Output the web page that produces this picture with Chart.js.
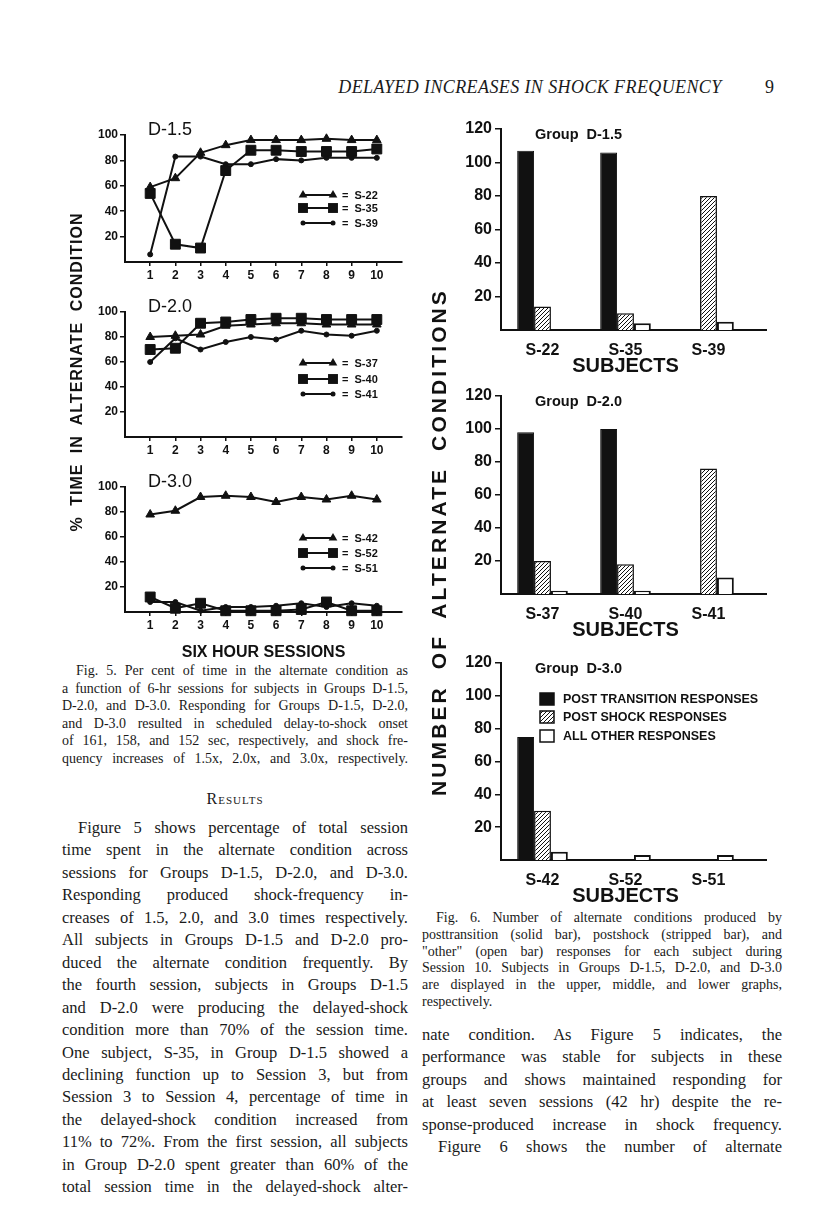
<!DOCTYPE html>
<html>
<head>
<meta charset="utf-8">
<script src="https://cdn.jsdelivr.net/npm/chart.js"></script>
<style>
    body { margin: 0; background: #fff; }
    #pagina { position: relative; width: 816px; height: 1207px; overflow: hidden; background: #fff; color: #1a1a1a; }
    canvas { position: absolute; }
    .txt { position: absolute; font-family: 'Liberation Serif', 'DejaVu Serif', serif; }
    .j { text-align: justify; text-align-last: justify; }
    .vert { position: absolute; font-family: 'Liberation Sans', Arial, sans-serif; font-weight: bold; text-align: center; white-space: nowrap; transform: rotate(-90deg); color: #111; }
</style>
</head>
<body>
<div id="pagina">

    <div class="txt" style="left:330px; top:77px; width:400px; text-align:center; font-style:italic; font-size:18px; letter-spacing:0.4px;">DELAYED INCREASES IN SHOCK FREQUENCY</div>
    <div class="txt" style="left:765px; top:77px; font-size:18px;">9</div>

    <!-- fig 5 -->
    <canvas id="grafico15" width="360" height="175" style="left:60px; top:110px;"></canvas>
    <canvas id="grafico20" width="360" height="172" style="left:60px; top:287px;"></canvas>
    <canvas id="grafico30" width="360" height="200" style="left:60px; top:462px;"></canvas>
    <div class="vert" style="left:-82px; top:362px; width:320px; height:20px; font-size:16px; letter-spacing:1px; word-spacing:5px;">% TIME IN ALTERNATE CONDITION</div>

    <!-- fig 6 -->
    <canvas id="barras15" width="348" height="270" style="left:452px; top:108px;"></canvas>
    <canvas id="barras20" width="348" height="267" style="left:452px; top:375px;"></canvas>
    <canvas id="barras30" width="348" height="266" style="left:452px; top:642px;"></canvas>
    <div class="vert" style="left:170px; top:529px; width:540px; height:26px; font-size:21px; letter-spacing:3.1px; word-spacing:7px;">NUMBER OF ALTERNATE CONDITIONS</div>

    <div class="txt" style="left:62px; top:662px; width:346px; font-size:14px; line-height:17.6px;">
        <div class="j" style="text-indent:14px;">Fig. 5. Per cent of time in the alternate condition as</div>
        <div class="j">a function of 6-hr sessions for subjects in Groups D-1.5,</div>
        <div class="j">D-2.0, and D-3.0. Responding for Groups D-1.5, D-2.0,</div>
        <div class="j">and D-3.0 resulted in scheduled delay-to-shock onset</div>
        <div class="j">of 161, 158, and 152 sec, respectively, and shock fre-</div>
        <div class="j">quency increases of 1.5x, 2.0x, and 3.0x, respectively.</div>
    </div>

    <div class="txt" style="left:62px; top:790px; width:346px; text-align:center; font-size:16px; font-variant:small-caps; letter-spacing:1px;">Results</div>

    <div class="txt" style="left:62px; top:817px; width:346px; font-size:16.5px; line-height:22.45px;">
        <div class="j" style="text-indent:16px;">Figure 5 shows percentage of total session</div>
        <div class="j">time spent in the alternate condition across</div>
        <div class="j">sessions for Groups D-1.5, D-2.0, and D-3.0.</div>
        <div class="j">Responding produced shock-frequency in-</div>
        <div class="j">creases of 1.5, 2.0, and 3.0 times respectively.</div>
        <div class="j">All subjects in Groups D-1.5 and D-2.0 pro-</div>
        <div class="j">duced the alternate condition frequently. By</div>
        <div class="j">the fourth session, subjects in Groups D-1.5</div>
        <div class="j">and D-2.0 were producing the delayed-shock</div>
        <div class="j">condition more than 70% of the session time.</div>
        <div class="j">One subject, S-35, in Group D-1.5 showed a</div>
        <div class="j">declining function up to Session 3, but from</div>
        <div class="j">Session 3 to Session 4, percentage of time in</div>
        <div class="j">the delayed-shock condition increased from</div>
        <div class="j">11% to 72%. From the first session, all subjects</div>
        <div class="j">in Group D-2.0 spent greater than 60% of the</div>
        <div class="j">total session time in the delayed-shock alter-</div>
    </div>

    <div class="txt" style="left:422px; top:910px; width:360px; font-size:14px; line-height:16.8px;">
        <div class="j" style="text-indent:14px;">Fig. 6. Number of alternate conditions produced by</div>
        <div class="j">posttransition (solid bar), postshock (stripped bar), and</div>
        <div class="j">"other" (open bar) responses for each subject during</div>
        <div class="j">Session 10. Subjects in Groups D-1.5, D-2.0, and D-3.0</div>
        <div class="j">are displayed in the upper, middle, and lower graphs,</div>
        <div>respectively.</div>
    </div>

    <div class="txt" style="left:422px; top:1024px; width:360px; font-size:16.5px; line-height:22.4px;">
        <div class="j">nate condition. As Figure 5 indicates, the</div>
        <div class="j">performance was stable for subjects in these</div>
        <div class="j">groups and shows maintained responding for</div>
        <div class="j">at least seven sessions (42 hr) despite the re-</div>
        <div class="j">sponse-produced increase in shock frequency.</div>
        <div class="j" style="text-indent:16px;">Figure 6 shows the number of alternate</div>
    </div>
</div>

<script>
// sessoes de 6 horas (eixo x da fig 5)
const sessoes = [1, 2, 3, 4, 5, 6, 7, 8, 9, 10];
const ticksPct = [20, 40, 60, 80, 100];
const ticksNum = [20, 40, 60, 80, 100, 120];

// grupo D-1.5 (% do tempo na condicao alternada)
const s22 = [59, 66, 86, 92, 96, 96, 96, 97, 96, 96];
const s35 = [54, 14, 11, 72, 88, 88, 87, 87, 87, 89];
const s39 = [6, 83, 83, 77, 77, 81, 80, 82, 82, 82];

// grupo D-2.0
const s37 = [80, 81, 82, 89, 90, 91, 91, 90, 90, 90];
const s40 = [70, 71, 91, 92, 94, 95, 95, 94, 94, 94];
const s41 = [60, 79, 70, 76, 80, 78, 85, 82, 81, 85];

// grupo D-3.0
const s42 = [78, 81, 92, 93, 92, 88, 92, 90, 93, 90];
const s52 = [12, 3, 7, 1, 1, 1, 2, 8, 1, 1];
const s51 = [8, 8, 1, 4, 4, 5, 7, 4, 7, 5];

// fig 6 - numero de condicoes alternadas na sessao 10
const tiposResposta = ['POST TRANSITION RESPONSES', 'POST SHOCK RESPONSES', 'ALL OTHER RESPONSES'];

const sujeitos15 = ['S-22', 'S-35', 'S-39'];
const posTransicao15 = [107, 106, 0];
const posChoque15 = [14, 10, 80];
const outras15 = [0, 4, 5];

const sujeitos20 = ['S-37', 'S-40', 'S-41'];
const posTransicao20 = [98, 100, 0];
const posChoque20 = [20, 18, 76];
const outras20 = [2, 2, 10];

const sujeitos30 = ['S-42', 'S-52', 'S-51'];
const posTransicao30 = [75, 0, 0];
const posChoque30 = [30, 0, 0];
const outras30 = [5, 3, 3];

const preto = '#111';
const fonteEixo = "'Liberation Sans', Arial, sans-serif";

function criarHachura() {
    const c = document.createElement('canvas');
    c.width = 4;
    c.height = 4;
    const g = c.getContext('2d');
    g.fillStyle = '#fff';
    g.fillRect(0, 0, 4, 4);
    g.strokeStyle = preto;
    g.lineWidth = 1;
    g.beginPath();
    g.moveTo(0, 4); g.lineTo(4, 0);
    g.moveTo(-1, 1); g.lineTo(1, -1);
    g.moveTo(3, 5); g.lineTo(5, 3);
    g.stroke();
    return g.createPattern(c, 'repeat');
}
const hachura = criarHachura();

function desenharMarcador(ctx, estilo, r, x, y) {
    ctx.beginPath();
    if (estilo === 'triangle') {
        ctx.moveTo(x, y - r);
        ctx.lineTo(x + 0.866 * r, y + 0.5 * r);
        ctx.lineTo(x - 0.866 * r, y + 0.5 * r);
        ctx.closePath();
    } else if (estilo === 'rect') {
        const t = r * Math.SQRT1_2;
        ctx.rect(x - t, y - t, 2 * t, 2 * t);
    } else {
        ctx.arc(x, y, r, 0, Math.PI * 2);
    }
    ctx.fill();
}

// titulos, chaves e extensao do eixo
const extras = {
    id: 'extras',
    afterDraw(chart, args, o) {
        const ctx = chart.ctx;
        const area = chart.chartArea;
        ctx.save();
        ctx.fillStyle = preto;
        ctx.strokeStyle = preto;
        if (o.titulo) {
            ctx.font = o.fonteTitulo;
            ctx.textBaseline = 'middle';
            ctx.fillText(o.titulo, area.left + o.tx, area.top + o.ty);
        }
        if (o.chaveLinhas) {
            chart.data.datasets.forEach((ds, i) => {
                const y = area.top + o.chaveLinhas[i];
                const x1 = area.left + 178, x2 = area.left + 208;
                ctx.lineWidth = 2;
                ctx.beginPath();
                ctx.moveTo(x1, y);
                ctx.lineTo(x2, y);
                ctx.stroke();
                desenharMarcador(ctx, ds.pointStyle, ds.pointRadius, x1, y);
                desenharMarcador(ctx, ds.pointStyle, ds.pointRadius, x2, y);
                ctx.font = 'bold 11px ' + fonteEixo;
                ctx.textBaseline = 'middle';
                ctx.fillText('=  ' + ds.label, x2 + 9, y + 1);
            });
        }
        if (o.chaveBarras) {
            chart.data.datasets.forEach((ds, i) => {
                const y = area.top + o.chaveBarras[i];
                const x = area.left + 39;
                ctx.fillStyle = ds.backgroundColor;
                ctx.fillRect(x, y - 6, 14, 12);
                ctx.lineWidth = 1.5;
                ctx.strokeRect(x, y - 6, 14, 12);
                ctx.fillStyle = preto;
                ctx.font = 'bold 12.5px ' + fonteEixo;
                ctx.textBaseline = 'middle';
                ctx.fillText(ds.label, x + 23, y + 1);
            });
        }
        if (o.estenderEixo) {
            ctx.lineWidth = 2;
            ctx.beginPath();
            ctx.moveTo(area.right, area.bottom);
            ctx.lineTo(area.right + o.estenderEixo, area.bottom);
            ctx.stroke();
        }
        ctx.restore();
    }
};

function graficoLinhas(id, titulo, series, chave, alturaX, tituloX) {
    const ctx = document.getElementById(id).getContext('2d');
    return new Chart(ctx, {
        type: 'line',
        data: {
            datasets: series.map(s => ({
                label: s.label,
                data: sessoes.map((x, i) => ({ x: x, y: s.valores[i] })),
                borderColor: preto,
                backgroundColor: preto,
                borderWidth: 2,
                pointStyle: s.estilo,
                pointRadius: s.raio,
                pointBorderWidth: 1,
                pointBackgroundColor: preto,
                pointBorderColor: preto,
                tension: 0,
                clip: false
            }))
        },
        options: {
            responsive: false,
            animation: false,
            layout: { padding: { top: 25, right: 18, left: 0, bottom: 0 } },
            plugins: {
                legend: { display: false },
                tooltip: { enabled: false },
                extras: { titulo: titulo, fonteTitulo: '18px ' + fonteEixo, tx: 23, ty: -5, chaveLinhas: chave }
            },
            scales: {
                x: {
                    type: 'linear',
                    min: 0,
                    max: 11,
                    afterBuildTicks: e => { e.ticks = sessoes.map(v => ({ value: v })); },
                    afterFit: e => { e.height = alturaX; },
                    grid: { drawOnChartArea: false, tickLength: 4, color: preto, lineWidth: 1.5 },
                    border: { color: preto, width: 2 },
                    ticks: { color: preto, padding: 2, maxRotation: 0, font: { family: fonteEixo, weight: 'bold', size: 12 } },
                    title: {
                        display: !!tituloX,
                        text: tituloX,
                        color: preto,
                        padding: { top: 4, bottom: 0 },
                        font: { family: fonteEixo, weight: 'bold', size: 16 }
                    }
                },
                y: {
                    min: 0,
                    max: 100,
                    afterBuildTicks: e => { e.ticks = ticksPct.map(v => ({ value: v })); },
                    afterFit: e => { e.width = 65; },
                    grid: { drawOnChartArea: false, tickLength: 5, color: preto, lineWidth: 1.5 },
                    border: { color: preto, width: 2 },
                    ticks: { color: preto, padding: 2, font: { family: fonteEixo, weight: 'bold', size: 12 } }
                }
            }
        },
        plugins: [extras]
    });
}

function graficoBarras(id, grupo, sujeitos, posTransicao, posChoque, outras, chave) {
    const ctx = document.getElementById(id).getContext('2d');
    return new Chart(ctx, {
        type: 'bar',
        data: {
            labels: sujeitos,
            datasets: [
                { label: tiposResposta[0], data: posTransicao, backgroundColor: preto, borderColor: preto, borderWidth: 1 },
                { label: tiposResposta[1], data: posChoque, backgroundColor: hachura, borderColor: preto, borderWidth: 1.5 },
                { label: tiposResposta[2], data: outras, backgroundColor: '#fff', borderColor: preto, borderWidth: 2 }
            ]
        },
        options: {
            responsive: false,
            animation: false,
            datasets: { bar: { categoryPercentage: 0.61, barPercentage: 1 } },
            layout: { padding: { top: 21, right: 50, left: 0, bottom: 0 } },
            plugins: {
                legend: { display: false },
                tooltip: { enabled: false },
                extras: { titulo: 'Group  ' + grupo, fonteTitulo: 'bold 14.5px ' + fonteEixo, tx: 34, ty: 6, chaveBarras: chave, estenderEixo: 17 }
            },
            scales: {
                x: {
                    afterFit: e => { e.height = 48; },
                    grid: { display: false },
                    border: { color: preto, width: 2 },
                    ticks: { color: preto, padding: 3, font: { family: fonteEixo, weight: 'bold', size: 16 } },
                    title: {
                        display: true,
                        text: 'SUBJECTS',
                        color: preto,
                        padding: { top: 4, bottom: 0 },
                        font: { family: fonteEixo, weight: 'bold', size: 20 }
                    }
                },
                y: {
                    min: 0,
                    max: 120,
                    afterBuildTicks: e => { e.ticks = ticksNum.map(v => ({ value: v })); },
                    afterFit: e => { e.width = 49; },
                    grid: { drawOnChartArea: false, tickLength: 6, color: preto, lineWidth: 1.5 },
                    border: { color: preto, width: 2 },
                    ticks: { color: preto, padding: 3, font: { family: fonteEixo, weight: 'bold', size: 16 } }
                }
            }
        },
        plugins: [extras]
    });
}

graficoLinhas('grafico15', 'D-1.5', [
    { label: 'S-22', valores: s22, estilo: 'triangle', raio: 5 },
    { label: 'S-35', valores: s35, estilo: 'rect', raio: 7 },
    { label: 'S-39', valores: s39, estilo: 'circle', raio: 2.5 }
], [60, 73, 88], 23);

graficoLinhas('grafico20', 'D-2.0', [
    { label: 'S-37', valores: s37, estilo: 'triangle', raio: 5 },
    { label: 'S-40', valores: s40, estilo: 'rect', raio: 7 },
    { label: 'S-41', valores: s41, estilo: 'circle', raio: 2.5 }
], [51, 67, 82], 22);

graficoLinhas('grafico30', 'D-3.0', [
    { label: 'S-42', valores: s42, estilo: 'triangle', raio: 5 },
    { label: 'S-52', valores: s52, estilo: 'rect', raio: 7 },
    { label: 'S-51', valores: s51, estilo: 'circle', raio: 2.5 }
], [51, 66, 81], 50, 'SIX HOUR SESSIONS');

graficoBarras('barras15', 'D-1.5', sujeitos15, posTransicao15, posChoque15, outras15);
graficoBarras('barras20', 'D-2.0', sujeitos20, posTransicao20, posChoque20, outras20);
graficoBarras('barras30', 'D-3.0', sujeitos30, posTransicao30, posChoque30, outras30, [36, 54, 73]);
</script>
</body>
</html>
